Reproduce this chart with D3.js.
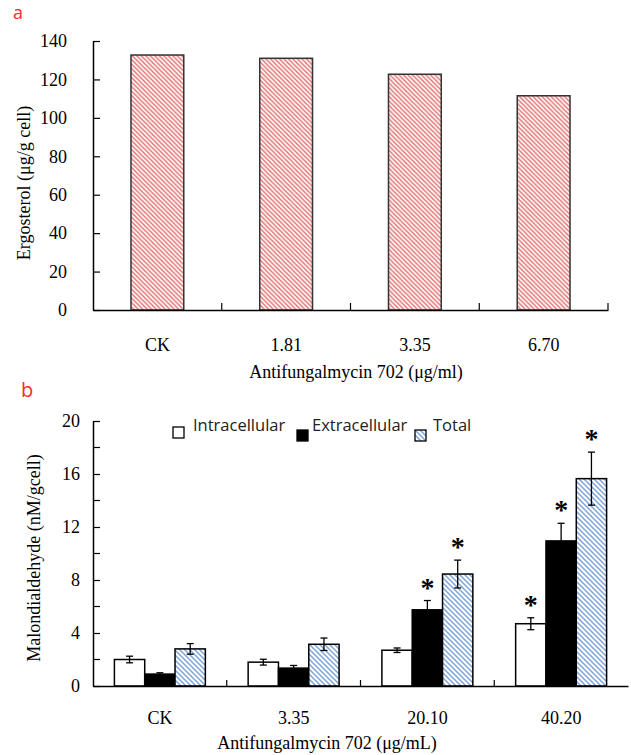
<!DOCTYPE html>
<html>
<head>
<meta charset="utf-8">
<script src="https://cdn.jsdelivr.net/npm/d3@7"></script>
<style>
  body { margin: 0; background: #fff; }
  svg { display: block; }
</style>
</head>
<body>
<svg id="chart" width="631" height="755"></svg>
<script>
// panel a data
var doseA = ['CK', '1.81', '3.35', '6.70'];
var ergosterol = [132.7, 131.0, 122.7, 111.5];
var ticksA = [0, 20, 40, 60, 80, 100, 120, 140];

// panel b data
var doseB = ['CK', '3.35', '20.10', '40.20'];
var seriesB = ['Intracellular', 'Extracellular', 'Total'];
var intra = [2.0, 1.8, 2.7, 4.7];
var extra = [0.9, 1.35, 5.75, 10.95];
var total = [2.8, 3.15, 8.45, 15.65];
var intraErr = [0.25, 0.22, 0.17, 0.45];
var extraErr = [0.1, 0.2, 0.7, 1.33];
var totalErr = [0.4, 0.47, 1.05, 2.0];
var starred = [[false, false, false], [false, false, false], [false, true, true], [true, true, true]];
var ticksB = [0, 4, 8, 12, 16, 20];
var minorB = [2, 6, 10, 14, 18];

var svg = d3.select('#chart');
var defs = svg.append('defs');

function hatch(id, color, size) {
  var p = defs.append('pattern').attr('id', id).attr('patternUnits', 'userSpaceOnUse')
    .attr('width', size).attr('height', size);
  p.append('rect').attr('width', size).attr('height', size).attr('fill', '#fff');
  // "\" direction lines
  p.append('path').attr('d', 'M0,0 L' + size + ',' + size + ' M' + (-size) + ',0 L' + size + ',' + (2 * size) + ' M0,' + (-size) + ' L' + (2 * size) + ',' + size)
    .attr('stroke', color).attr('stroke-width', 1.5);
}
hatch('redHatch', '#e57b7b', 4.5);
hatch('blueHatch', '#7fa4d8', 5);

var serif = '"Liberation Serif", "Times New Roman", serif';
var sans = '"Open Sans", "Noto Sans", sans-serif';

// ---------- panel a ----------
svg.append('text').attr('x', 13).attr('y', 19).text('a')
  .attr('fill', '#ff2a2a').attr('font-family', sans).attr('font-size', 18);

var xA = d3.scaleBand().domain(doseA).range([93, 608]).paddingInner(0.59).paddingOuter(0.295);
var yA = d3.scaleLinear().domain([0, 140]).range([310, 41]);

var gA = svg.append('g');
gA.selectAll('rect.bar').data(ergosterol).enter().append('rect')
  .attr('class', 'bar')
  .attr('x', function(d, i) { return xA(doseA[i]); })
  .attr('y', function(d) { return yA(d); })
  .attr('width', xA.bandwidth())
  .attr('height', function(d) { return yA(0) - yA(d); })
  .attr('fill', 'url(#redHatch)').attr('stroke', '#333').attr('stroke-width', 1.5);

var yAxisA = d3.axisLeft(yA).tickValues(ticksA).tickSizeInner(-7).tickSizeOuter(0).tickPadding(26);
gA.append('g').attr('transform', 'translate(93,0)').call(yAxisA)
  .call(function(g) {
    g.select('.domain').attr('stroke', '#000').attr('stroke-width', 1.5);
    g.selectAll('.tick line').attr('stroke', '#000').attr('stroke-width', 1.2);
    g.selectAll('text').attr('font-family', serif).attr('font-size', 18).attr('fill', '#000');
  });

var xAxisA = d3.axisBottom(xA).tickSize(0).tickPadding(28);
gA.append('g').attr('transform', 'translate(0,310)').call(xAxisA)
  .call(function(g) {
    g.select('.domain').attr('stroke', '#000').attr('stroke-width', 1.5);
    g.selectAll('text').attr('font-family', serif).attr('font-size', 18).attr('fill', '#000');
  });
// boundary ticks, pointing up
gA.selectAll('line.bt').data(d3.range(1, doseA.length + 1)).enter().append('line')
  .attr('x1', function(i) { return xA.range()[0] + xA.step() * i; })
  .attr('x2', function(i) { return xA.range()[0] + xA.step() * i; })
  .attr('y1', 310).attr('y2', 303).attr('stroke', '#000').attr('stroke-width', 1.2);

gA.append('text').attr('x', 356).attr('y', 378).attr('text-anchor', 'middle')
  .attr('font-family', serif).attr('font-size', 18).text('Antifungalmycin 702 (μg/ml)');
gA.append('text').attr('transform', 'translate(30,183) rotate(-90)').attr('text-anchor', 'middle')
  .attr('font-family', serif).attr('font-size', 18).text('Ergosterol (μg/g cell)');

// ---------- panel b ----------
svg.append('text').attr('x', 21).attr('y', 397).text('b')
  .attr('fill', '#ff2a2a').attr('font-family', sans).attr('font-size', 20);

var xB = d3.scaleBand().domain(doseB).range([93, 628]).paddingInner(0.32).paddingOuter(0.16);
var xSub = d3.scaleBand().domain(seriesB).range([0, xB.bandwidth()]);
var yB = d3.scaleLinear().domain([0, 20]).range([686, 421]);
var fills = { 'Intracellular': '#fff', 'Extracellular': '#000', 'Total': 'url(#blueHatch)' };

var rows = [];
doseB.forEach(function(c, i) {
  rows.push({ cat: c, s: 'Intracellular', v: intra[i], e: intraErr[i], star: starred[i][0] });
  rows.push({ cat: c, s: 'Extracellular', v: extra[i], e: extraErr[i], star: starred[i][1] });
  rows.push({ cat: c, s: 'Total', v: total[i], e: totalErr[i], star: starred[i][2] });
});

var gB = svg.append('g');
gB.selectAll('rect.bar').data(rows).enter().append('rect')
  .attr('class', 'bar')
  .attr('x', function(d) { return xB(d.cat) + xSub(d.s); })
  .attr('y', function(d) { return yB(d.v); })
  .attr('width', xSub.bandwidth())
  .attr('height', function(d) { return yB(0) - yB(d.v); })
  .attr('fill', function(d) { return fills[d.s]; })
  .attr('stroke', '#000').attr('stroke-width', 1.5);

var cx = function(d) { return xB(d.cat) + xSub(d.s) + xSub.bandwidth() / 2; };
var eb = gB.selectAll('g.err').data(rows).enter().append('g').attr('class', 'err')
  .attr('stroke', '#000').attr('stroke-width', 1.3);
eb.append('line').attr('x1', cx).attr('x2', cx)
  .attr('y1', function(d) { return yB(d.v + d.e); }).attr('y2', function(d) { return yB(d.v - d.e); });
eb.append('line').attr('x1', function(d) { return cx(d) - 3.5; }).attr('x2', function(d) { return cx(d) + 3.5; })
  .attr('y1', function(d) { return yB(d.v + d.e); }).attr('y2', function(d) { return yB(d.v + d.e); });
eb.append('line').attr('x1', function(d) { return cx(d) - 3.5; }).attr('x2', function(d) { return cx(d) + 3.5; })
  .attr('y1', function(d) { return yB(d.v - d.e); }).attr('y2', function(d) { return yB(d.v - d.e); });

gB.selectAll('text.star').data(rows.filter(function(d) { return d.star; })).enter().append('text')
  .attr('class', 'star')
  .attr('x', cx).attr('y', function(d) { return yB(d.v + d.e) - 17 + 13; })
  .attr('text-anchor', 'middle').attr('font-family', serif).attr('font-size', 28).attr('font-weight', 'bold')
  .text('*');

var yAxisB = d3.axisLeft(yB).tickValues(ticksB).tickSizeInner(-7).tickSizeOuter(0).tickPadding(13);
gB.append('g').attr('transform', 'translate(93,0)').call(yAxisB)
  .call(function(g) {
    g.select('.domain').attr('stroke', '#000').attr('stroke-width', 1.5);
    g.selectAll('.tick line').attr('stroke', '#000').attr('stroke-width', 1.2);
    g.selectAll('text').attr('font-family', serif).attr('font-size', 18).attr('fill', '#000');
  });
gB.selectAll('line.minor').data(minorB).enter().append('line')
  .attr('x1', 93).attr('x2', 100)
  .attr('y1', function(d) { return yB(d); }).attr('y2', function(d) { return yB(d); })
  .attr('stroke', '#000').attr('stroke-width', 1.2);

var xAxisB = d3.axisBottom(xB).tickSize(0).tickPadding(25);
gB.append('g').attr('transform', 'translate(0,686)').call(xAxisB)
  .call(function(g) {
    g.select('.domain').attr('stroke', '#000').attr('stroke-width', 1.5);
    g.selectAll('text').attr('font-family', serif).attr('font-size', 18).attr('fill', '#000');
  });
gB.selectAll('line.bt').data(d3.range(1, doseB.length)).enter().append('line')
  .attr('x1', function(i) { return xB.range()[0] + xB.step() * i; })
  .attr('x2', function(i) { return xB.range()[0] + xB.step() * i; })
  .attr('y1', 686).attr('y2', 680).attr('stroke', '#000').attr('stroke-width', 1.2);

gB.append('text').attr('x', 327).attr('y', 749).attr('text-anchor', 'middle')
  .attr('font-family', serif).attr('font-size', 18).text('Antifungalmycin 702 (μg/mL)');
gB.append('text').attr('transform', 'translate(40,558) rotate(-90)').attr('text-anchor', 'middle')
  .attr('font-family', serif).attr('font-size', 18).text('Malondialdehyde (nM/gcell)');

// legend
var legX = [173, 297, 415];
var legTextX = [193, 312, 433];
var legend = gB.selectAll('g.leg').data(seriesB).enter().append('g').attr('class', 'leg');
legend.append('rect')
  .attr('x', function(d, i) { return legX[i]; })
  .attr('y', function(d, i) { return i === 0 ? 427 : 430; })
  .attr('width', 11).attr('height', 11)
  .attr('fill', function(d) { return fills[d]; })
  .attr('stroke', '#000').attr('stroke-width', 1.3);
legend.append('text')
  .attr('x', function(d, i) { return legTextX[i]; })
  .attr('y', 431)
  .attr('font-family', sans).attr('font-size', 16.5).attr('fill', '#222')
  .text(function(d) { return d; });
</script>
</body>
</html>
